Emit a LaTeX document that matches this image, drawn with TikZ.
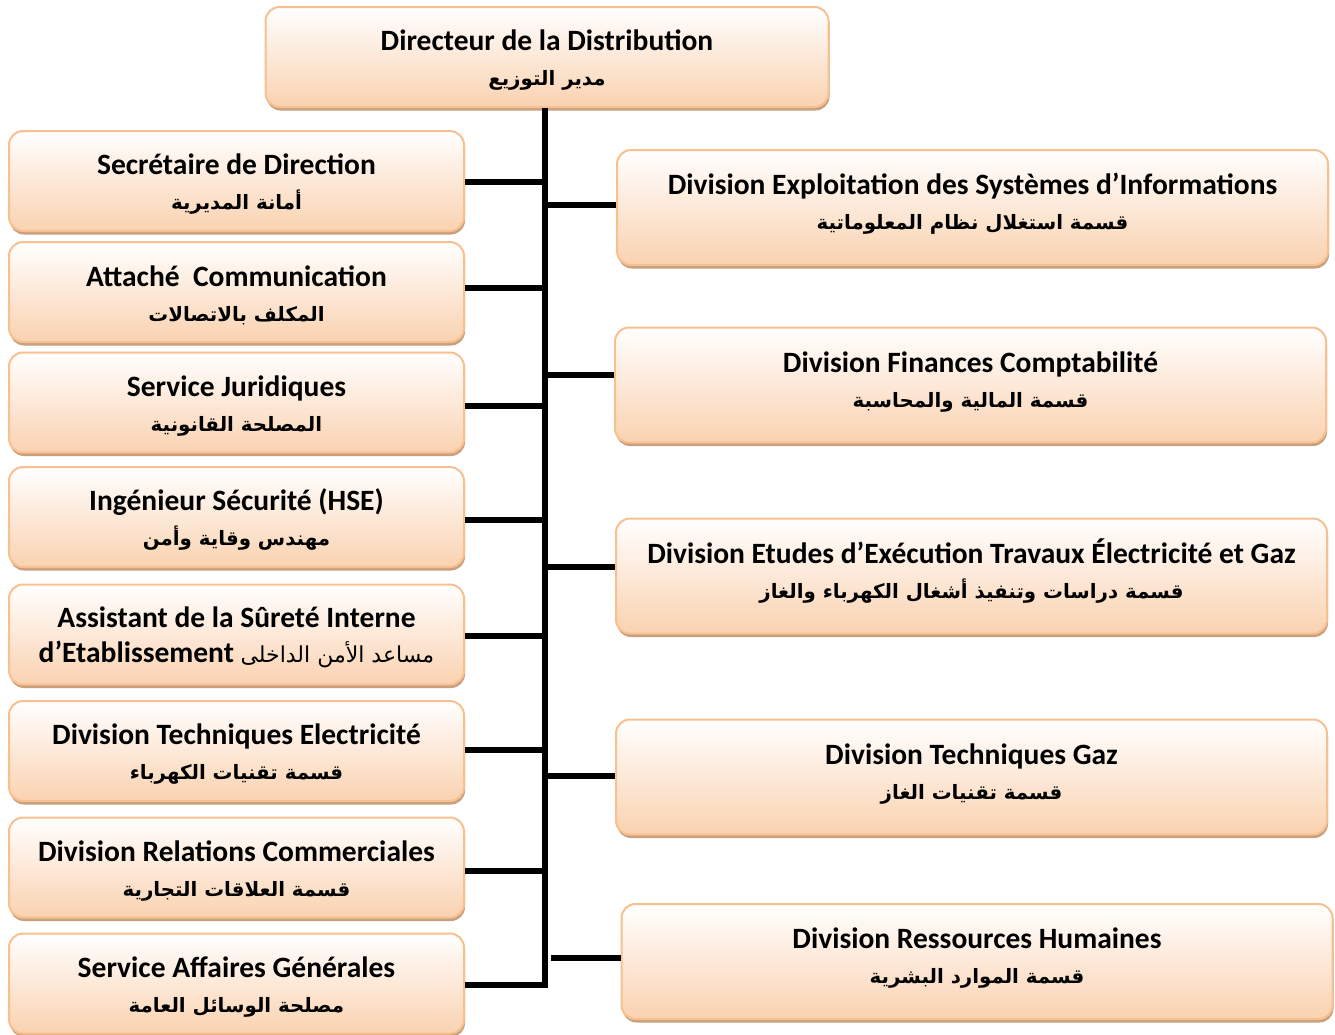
\documentclass[tikz,border=0pt]{standalone}
\usepackage{fontspec}
\setmainfont{Carlito}
\newfontfamily\arabicfont[Script=Arabic]{DejaVu Sans}
\TeXXeTstate=1
\usetikzlibrary{shadows}
\definecolor{boxborder}{RGB}{249,192,143}
\definecolor{boxfill}{RGB}{250,210,176}
\definecolor{boxshadow}{RGB}{200,160,126}
\newcommand{\artxt}[1]{{\arabicfont\bfseries\fontsize{19.8}{35}\selectfont\beginR #1\endR}}
\newcommand{\artxtn}[1]{{\arabicfont\mdseries\fontsize{22}{35}\selectfont\beginR #1\endR}}
\newcommand{\tstrut}{\rule{0pt}{27pt}}
\newcommand{\bstrut}{\rule[-18pt]{0pt}{0pt}}
\begin{document}
\begin{tikzpicture}[x=1pt,y=-1pt,
  orgbox/.style={draw=boxborder, line width=2pt, rounded corners=14pt,
    top color=white, bottom color=boxfill,
    drop shadow={shadow xshift=1pt, shadow yshift=-3.5pt, fill=boxshadow, opacity=1},
    align=center, font=\fontsize{29.5}{35}\selectfont\bfseries, inner sep=0pt},
  leftbox/.style={orgbox, minimum width=455pt, minimum height=100pt},
  rightbox/.style={orgbox, minimum width=711pt, minimum height=115pt},
  link/.style={line width=6pt, black}]
\useasboundingbox (0,0) rectangle (1335,1034);
\fill[white] (0,0) rectangle (1335,1034);

\node[orgbox, minimum width=563pt, minimum height=100pt] (top) at (547,57)
  {\tstrut Directeur de la Distribution\\\artxt{مدير التوزيع}};

\node[leftbox] (l1) at (236.5,181) {\tstrut Secrétaire de Direction\\\artxt{أمانة المديرية}};
\node[leftbox] (l2) at (236.5,292) {\tstrut Attaché\ \ Communication\\\artxt{المكلف بالاتصالات}};
\node[leftbox] (l3) at (236.5,402.5) {\tstrut Service Juridiques\\\artxt{المصلحة القانونية}};
\node[leftbox] (l4) at (236.5,517) {\tstrut Ingénieur Sécurité (HSE)\\\artxt{مهندس وقاية وأمن}};
\node[leftbox] (l5) at (236.5,634.5) {\tstrut Assistant de la Sûreté Interne\\d’Etablissement \artxtn{مساعد الأمن الداخلى}};
\node[leftbox] (l6) at (236.5,751) {\tstrut Division Techniques Electricité\\\artxt{قسمة تقنيات الكهرباء}};
\node[leftbox] (l7) at (236.5,867.5) {\tstrut Division Relations Commerciales\\\artxt{قسمة العلاقات التجارية}};
\node[leftbox] (l8) at (236.5,983.5) {\tstrut Service Affaires Générales\\\artxt{مصلحة الوسائل العامة}};

\node[rightbox] (r1) at (972.5,207.5) {\tstrut Division Exploitation des Systèmes d’Informations\\\artxt{قسمة استغلال نظام المعلوماتية}\bstrut};
\node[rightbox] (r2) at (970.5,385) {\tstrut Division Finances Comptabilité\\\artxt{قسمة المالية والمحاسبة}\bstrut};
\node[rightbox] (r3) at (971.5,576) {\tstrut Division Etudes d’Exécution Travaux Électricité et Gaz\\\artxt{قسمة دراسات وتنفيذ أشغال الكهرباء والغاز}\bstrut};
\node[rightbox] (r4) at (971.5,777) {\tstrut Division Techniques Gaz\\\artxt{قسمة تقنيات الغاز}\bstrut};
\node[rightbox] (r5) at (977,961.5) {\tstrut Division Ressources Humaines\\\artxt{قسمة الموارد البشرية}\bstrut};

% spine and left connectors
\coordinate (sl1) at (545,182);
\coordinate (sl2) at (545,288);
\coordinate (sl3) at (545,406);
\coordinate (sl4) at (545,520);
\coordinate (sl5) at (545,636);
\coordinate (sl6) at (545,750);
\coordinate (sl7) at (545,871);
\coordinate (sl8) at (545,985);
\draw[link] (l8.east |- sl8) -- (sl8) -- (top.south -| sl8);
\foreach \i in {1,...,7} \draw[link] (l\i.east |- sl\i) -- (sl\i);

% right connectors
\coordinate (sr1) at (548,205);
\coordinate (sr2) at (548,375);
\coordinate (sr3) at (548,567);
\coordinate (sr4) at (548,776);
\coordinate (sr5) at (551,958);
\foreach \i in {1,...,5} \draw[link] (sr\i) -- (r\i.west |- sr\i);
\end{tikzpicture}
\end{document}
